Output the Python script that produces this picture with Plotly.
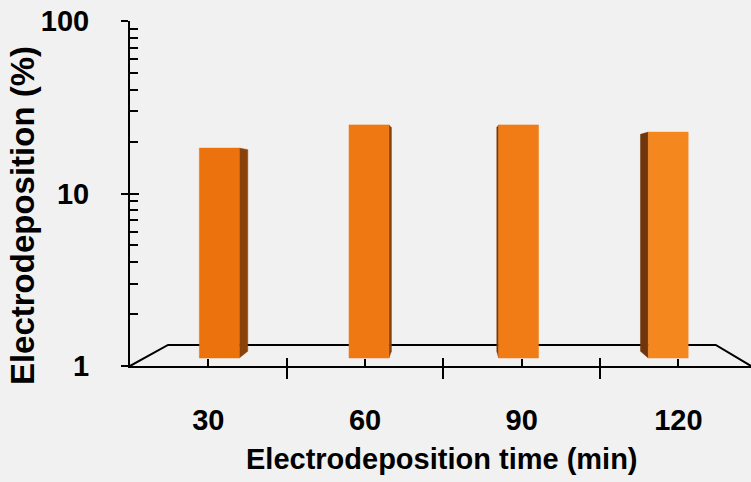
import math
import plotly.graph_objects as go

# ---- data ----
times = [30, 60, 90, 120]
deposition = [18.8, 26.0, 26.0, 23.5]
x_tick_labels = ["30", "60", "90", "120"]
y_tick_vals = [1, 10, 100]
y_tick_labels = ["1", "10", "100"]
x_title = "Electrodeposition time (min)"
y_title = "Electrodeposition (%)"

# ---- style / 3D geometry ----
X_MIN, X_MAX = 15, 133.9
BAR_W = 8.0
XV, LV = 76.7, 1.032            # vanishing point (x units, log10 y units)
S_FRONT, S_BACK, S_FLOOR = 0.955, 0.917, 0.882
FRONT_COLORS = ["#ec720d", "#ef7813", "#f17c16", "#f5871f"]
SIDE_COLORS = ["#8a420b", "#8a420b", "#7a3a08", "#70350a"]
BG = "#f1f1f1"
FONT = "Liberation Sans, Arial, sans-serif"


def proj(x, L, s):
    return XV + (x - XV) * s, 10 ** (LV + (L - LV) * s)


def poly(points):
    xs, ys = [], []
    for (x, L, s) in points:
        px, py = proj(x, L, s)
        xs.append(px)
        ys.append(py)
    xs.append(xs[0])
    ys.append(ys[0])
    return xs, ys


fig = go.Figure()

# floor outline
fx, fy = [], []
for (x, s) in [(X_MIN, 1.0), (X_MIN, S_FLOOR), (X_MAX, S_FLOOR), (X_MAX, 1.0)]:
    px, py = proj(x, 0.0, s)
    fx.append(px)
    fy.append(py)
fig.add_trace(go.Scatter(x=fx, y=fy, mode="lines", line=dict(color="black", width=2),
                         hoverinfo="skip", cliponaxis=False))

# bars
for i, (t, v) in enumerate(zip(times, deposition)):
    L = math.log10(v)
    xl, xr = t - BAR_W / 2, t + BAR_W / 2
    edge = xr if t < XV else xl
    sx, sy = poly([(edge, 0, S_FRONT), (edge, 0, S_BACK), (edge, L, S_BACK), (edge, L, S_FRONT)])
    fig.add_trace(go.Scatter(x=sx, y=sy, mode="lines", fill="toself",
                             fillcolor=SIDE_COLORS[i], line=dict(color=SIDE_COLORS[i], width=0.5),
                             hoverinfo="skip"))
    qx, qy = poly([(xl, 0, S_FRONT), (xr, 0, S_FRONT), (xr, L, S_FRONT), (xl, L, S_FRONT)])
    fig.add_trace(go.Scatter(x=qx, y=qy, mode="lines", fill="toself",
                             fillcolor=FRONT_COLORS[i], line=dict(color=FRONT_COLORS[i], width=0.5),
                             hoverinfo="text", text=f"{t} min: {v}%"))

# dummy traces so the overlay axes exist
fig.add_trace(go.Scatter(x=[30], y=[1], xaxis="x2", yaxis="y", mode="markers",
                         marker=dict(opacity=0), hoverinfo="skip"))
fig.add_trace(go.Scatter(x=[30], y=[1], xaxis="x", yaxis="y2", mode="markers",
                         marker=dict(opacity=0), hoverinfo="skip"))

boundaries = [45, 75, 105]
minor_y = [2, 3, 4, 5, 6, 7, 8, 9, 20, 30, 40, 50, 60, 70, 80, 90]

fig.update_layout(
    width=751, height=482,
    margin=dict(l=130, r=0, t=21, b=116),
    paper_bgcolor=BG, plot_bgcolor=BG,
    showlegend=False,
    font=dict(family=FONT, color="black"),
    xaxis=dict(range=[X_MIN, X_MAX], showgrid=False, zeroline=False,
               showline=True, linecolor="black", linewidth=2,
               tickmode="array", tickvals=times, ticktext=x_tick_labels,
               ticks="inside", ticklen=7, tickwidth=2, tickcolor="black",
               tickfont=dict(size=29, family=FONT, weight="bold"),
               ticklabelstandoff=27,
               minor=dict(tickmode="array", tickvals=boundaries, ticks="outside",
                          ticklen=11, tickwidth=2, tickcolor="black", showgrid=False)),
    xaxis2=dict(range=[X_MIN, X_MAX], overlaying="x", anchor="y", side="bottom",
                showgrid=False, zeroline=False, showline=False, showticklabels=False,
                tickmode="array", tickvals=boundaries, ticks="inside", ticklen=8,
                tickwidth=2, tickcolor="black"),
    yaxis=dict(type="log", range=[0, 2], showgrid=False, zeroline=False,
               showline=True, linecolor="black", linewidth=2,
               tickmode="array", tickvals=y_tick_vals, ticktext=y_tick_labels,
               ticks="outside", ticklen=7, tickwidth=2, tickcolor="black",
               tickfont=dict(size=29, family=FONT, weight="bold"),
               ticklabelstandoff=26,
               minor=dict(tickmode="array", tickvals=minor_y, ticks="inside",
                          ticklen=8, tickwidth=2, tickcolor="black", showgrid=False)),
    yaxis2=dict(type="log", range=[0, 2], overlaying="y", anchor="x", side="left",
                showgrid=False, zeroline=False, showline=False, showticklabels=False,
                tickmode="array", tickvals=y_tick_vals, ticks="inside", ticklen=9,
                tickwidth=2, tickcolor="black"),
    annotations=[
        dict(text=x_title, xref="paper", yref="paper", x=0.502, y=-0.27,
             xanchor="center", yanchor="middle", showarrow=False,
             font=dict(size=29, family=FONT, weight="bold")),
        dict(text=y_title, xref="paper", yref="paper", x=-0.172, y=0.435,
             xanchor="center", yanchor="middle", textangle=-90, showarrow=False,
             font=dict(size=33, family=FONT, weight="bold")),
    ],
)

fig.write_html("out.html")
